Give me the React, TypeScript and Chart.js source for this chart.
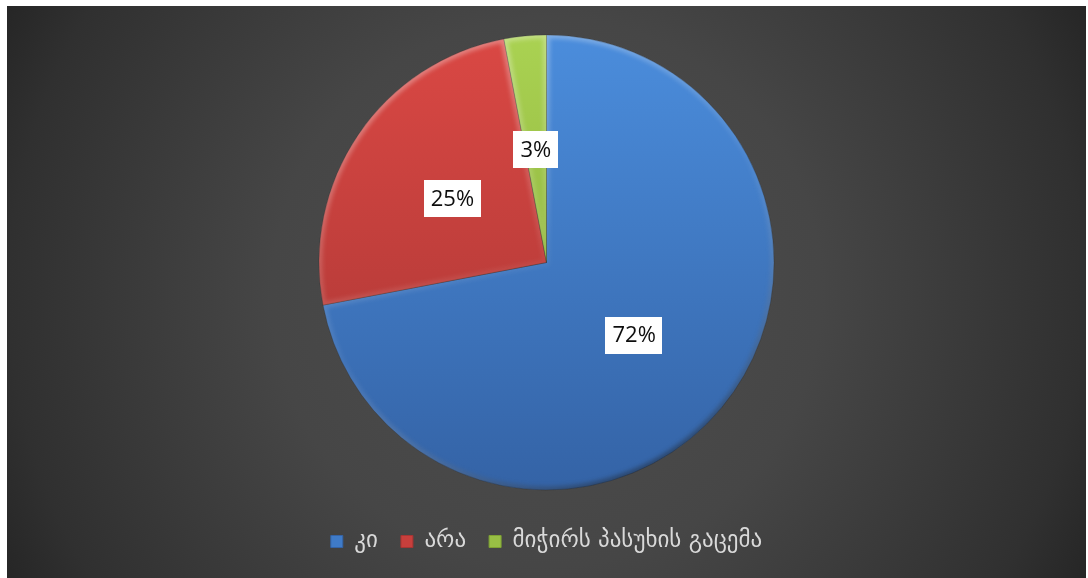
import React, { useEffect, useRef } from "react";
import { Chart, registerables } from "chart.js";

Chart.register(...registerables);

// ---- data ----
const categories = ["კი", "არა", "მიჭირს პასუხის გაცემა"];
const values = [72, 25, 3];

// ---- styles ----
const topColors = ["#4b8ddc", "#da4844", "#aad252"];
const bottomColors = ["#3463a6", "#a63533", "#7fa233"];
const legendColors = ["#3f7bc8", "#c73f3c", "#98bf45"];

const PIE_RADIUS = 227.5;

const bevelPlugin = {
  id: "bevel",
  afterDatasetsDraw(chart: any) {
    const { ctx } = chart;
    const meta = chart.getDatasetMeta(0);
    meta.data.forEach((arc: any) => {
      const { x, y, startAngle, endAngle, outerRadius } = arc.getProps(
        ["x", "y", "startAngle", "endAngle", "outerRadius"],
        true
      );
      ctx.save();
      ctx.beginPath();
      ctx.moveTo(x, y);
      ctx.arc(x, y, outerRadius, startAngle, endAngle);
      ctx.closePath();
      ctx.clip();
      const g = ctx.createLinearGradient(x - outerRadius * 0.5, y - outerRadius, x + outerRadius * 0.5, y + outerRadius);
      g.addColorStop(0, "rgba(255,255,255,0.35)");
      g.addColorStop(0.5, "rgba(255,255,255,0.05)");
      g.addColorStop(1, "rgba(0,0,0,0.45)");
      ctx.filter = "blur(2px)";
      ctx.lineWidth = 7;
      ctx.strokeStyle = g;
      ctx.beginPath();
      ctx.moveTo(x, y);
      ctx.arc(x, y, outerRadius, startAngle, endAngle);
      ctx.closePath();
      ctx.stroke();
      ctx.restore();
    });
  },
};

const labelPlugin = {
  id: "boxLabels",
  afterDatasetsDraw(chart: any) {
    const { ctx } = chart;
    const meta = chart.getDatasetMeta(0);
    ctx.save();
    ctx.font = "22px 'Open Sans', sans-serif";
    ctx.textAlign = "center";
    ctx.textBaseline = "middle";
    meta.data.forEach((arc: any, i: number) => {
      const { x, y, startAngle, endAngle, outerRadius } = arc.getProps(
        ["x", "y", "startAngle", "endAngle", "outerRadius"],
        true
      );
      const mid = (startAngle + endAngle) / 2;
      const r = outerRadius * 0.5;
      const px = x + Math.cos(mid) * r;
      const py = y + Math.sin(mid) * r;
      const text = `${values[i]}%`;
      const w = ctx.measureText(text).width + 14;
      const h = 37;
      ctx.fillStyle = "#ffffff";
      ctx.fillRect(Math.round(px - w / 2), Math.round(py - h / 2), Math.round(w), h);
      ctx.fillStyle = "#0d0d0d";
      ctx.fillText(text, px, py + 1);
    });
    ctx.restore();
  },
};

export default function App() {
  const canvasRef = useRef<HTMLCanvasElement | null>(null);

  useEffect(() => {
    if (!canvasRef.current) return;
    const makeGrad = (c: any, i: number) => {
      const chart = c.chart;
      const area = chart.chartArea;
      if (!area) return legendColors[i];
      const cy = (area.top + area.bottom) / 2;
      const g = chart.ctx.createLinearGradient(0, cy - PIE_RADIUS, 0, cy + PIE_RADIUS);
      g.addColorStop(0, topColors[i]);
      g.addColorStop(1, bottomColors[i]);
      return g;
    };
    const chart = new Chart(canvasRef.current, {
      type: "pie",
      data: {
        labels: categories,
        datasets: [
          {
            data: values,
            backgroundColor: (c: any) => makeGrad(c, c.dataIndex),
            borderColor: "rgba(40,40,40,0.35)",
            borderWidth: 1,
            radius: PIE_RADIUS,
          } as any,
        ],
      },
      options: {
        animation: false,
        responsive: true,
        maintainAspectRatio: false,
        layout: { padding: { top: 12, bottom: 15, left: 0, right: 0 } },
        plugins: {
          tooltip: { enabled: false },
          legend: {
            position: "bottom",
            labels: {
              color: "#d9d9d9",
              font: { size: 23, family: "'DejaVu Sans', sans-serif" },
              boxWidth: 12,
              boxHeight: 12,
              padding: 23,
              generateLabels: (ch: any) =>
                ch.data.labels.map((l: string, i: number) => ({
                  text: l,
                  fillStyle: legendColors[i],
                  strokeStyle: bottomColors[i],
                  lineWidth: 1,
                  fontColor: "#d9d9d9",
                  hidden: false,
                  index: i,
                  datasetIndex: 0,
                })),
            },
          },
        },
      },
      plugins: [bevelPlugin, labelPlugin],
    });
    return () => chart.destroy();
  }, []);

  return (
    <div
      style={{
        position: "fixed",
        left: 7,
        top: 6,
        width: 1079,
        height: 572,
        background:
          "radial-gradient(circle farthest-corner at 50% 50%, #4e4e4e 0%, #464646 45%, #303030 88%, #262626 100%)",
      }}
    >
      <canvas ref={canvasRef} />
    </div>
  );
}
